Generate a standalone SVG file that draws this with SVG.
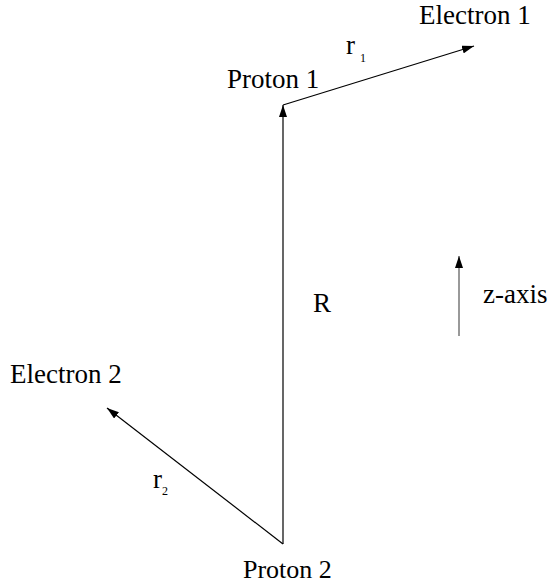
<svg xmlns="http://www.w3.org/2000/svg" width="553" height="584" viewBox="0 0 553 584">
<style>
text { font-family: "Liberation Serif", "Times New Roman", serif; fill: #000; }
.lbl { font-size: 27px; }
.sub { font-size: 12px; }
.conn line { stroke: #000; stroke-width: 1.2; fill: none; marker-end: url(#ah); }
</style>
<defs>
<marker id="ah" viewBox="0 0 12 8" refX="12" refY="4" markerWidth="12" markerHeight="8" markerUnits="userSpaceOnUse" orient="auto">
<path d="M0,0 L12,4 L0,8 z" fill="#000"/>
</marker>
</defs>
<rect width="553" height="584" fill="#fff"/>
<g id="connectors" class="conn">
<line id="R" x1="283" y1="544" x2="283" y2="105"/>
<line id="r1" x1="283" y1="105" x2="474" y2="46"/>
<line id="r2" x1="283" y1="544" x2="107" y2="408"/>
<line id="zaxis" x1="459" y1="336" x2="459" y2="256" style="stroke:#555"/>
</g>
<g id="proton1"><text class="lbl" x="227" y="88">Proton 1</text></g>
<g id="electron1"><text class="lbl" x="419" y="24">Electron 1</text></g>
<g id="proton2"><text class="lbl" x="243" y="578" style="font-size:26px">Proton 2</text></g>
<g id="electron2"><text class="lbl" x="10" y="383">Electron 2</text></g>
<g id="labels">
<text class="lbl" x="346" y="54">r<tspan class="sub" dx="5" dy="8">1</tspan></text>
<text class="lbl" x="153" y="488">r<tspan class="sub" dx="0" dy="7">2</tspan></text>
<text class="lbl" x="313" y="312">R</text>
<text class="lbl" x="483" y="303">z-axis</text>
</g>
</svg>
